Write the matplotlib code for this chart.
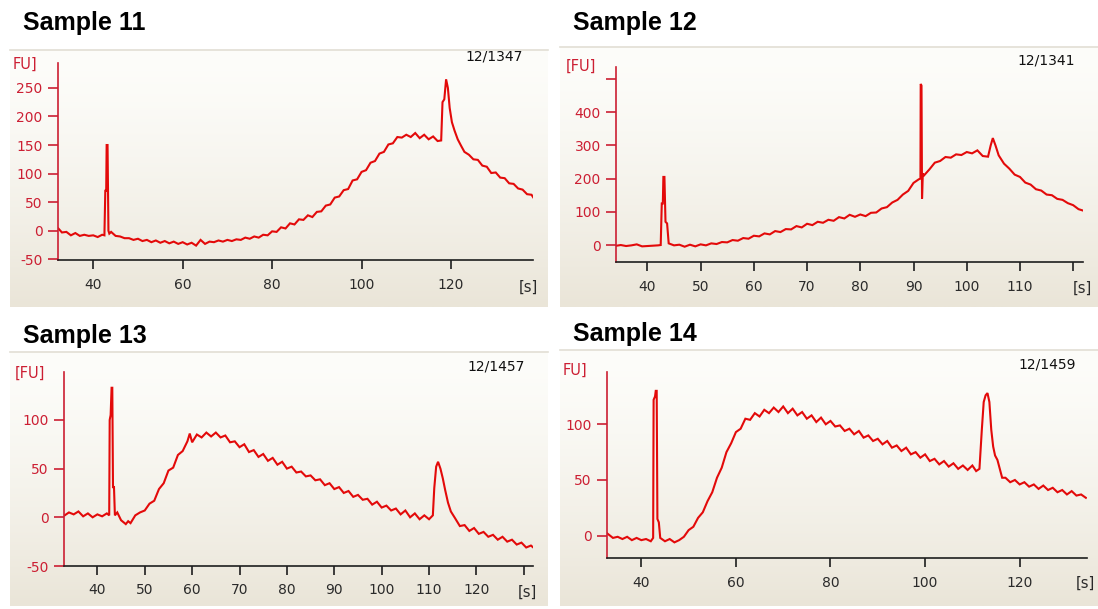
import numpy as np
import matplotlib
matplotlib.use("Agg")
import matplotlib.pyplot as plt

W, H, DPI = 1098, 609, 100

# ---------------- electropherogram traces (time [s], fluorescence [FU]) ----------------
s11_time = [32.2, 33, 34, 35, 36, 37, 38, 39, 40, 41, 42, 42.5, 42.7, 42.9, 43.0, 43.2, 43.4, 43.6,
            44, 45, 46, 47, 48, 49, 50, 51, 52, 53, 54, 55, 56, 57, 58, 59, 60, 61, 62, 63, 64, 65,
            66, 67, 68, 69, 70, 71, 72, 73, 74, 75, 76, 77, 78, 79, 80, 81, 82, 83, 84, 85, 86, 87,
            88, 89, 90, 91, 92, 93, 94, 95, 96, 97, 98, 99, 100, 101, 102, 103, 104, 105, 106, 107,
            108, 109, 110, 111, 112, 113, 114, 115, 116, 117, 117.8, 118.1, 118.5, 118.9, 119.3,
            119.7, 120.2, 120.8, 121.5, 122.3, 123, 124, 125, 126, 127, 128, 129, 130, 131, 132,
            133, 134, 135, 136, 137, 138, 138.5]
s11_fu = [4, -3, -2, -8, -4, -9, -7, -9, -8, -11, -7, -8, 70, 70, 150, 150, 0, -5,
          -2, -9, -10, -13, -13, -16, -14, -18, -16, -20, -17, -21, -18, -22, -19, -23, -20, -24,
          -21, -26, -16, -23, -19, -20, -17, -19, -16, -18, -15, -16, -12, -14, -10, -12, -7, -8,
          -1, -2, 6, 4, 13, 11, 20, 19, 27, 24, 33, 34, 44, 46, 58, 60, 71, 73, 88, 90, 103, 106,
          119, 122, 135, 138, 151, 153, 164, 163, 168, 164, 171, 162, 168, 160, 165, 157, 158,
          225, 230, 265, 250, 215, 190, 175, 160, 148, 138, 133, 125, 124, 114, 112, 101, 102,
          93, 92, 83, 82, 74, 72, 64, 63, 57]

s12_time = [34.2, 35, 36, 37, 38, 39, 40, 41, 42, 42.5, 42.7, 42.9, 43.0, 43.2, 43.4, 43.7, 44.0,
            45, 46, 47, 48, 49, 50, 51, 52, 53, 54, 55, 56, 57, 58, 59, 60, 61, 62, 63, 64, 65, 66,
            67, 68, 69, 70, 71, 72, 73, 74, 75, 76, 77, 78, 79, 80, 81, 82, 83, 84, 85, 86, 87, 88,
            89, 90, 91, 91.3, 91.35, 91.5, 91.6, 91.75, 92, 93, 94, 95, 96, 97, 98, 99, 100, 101,
            102, 103, 104, 104.5, 104.9, 105.4, 106, 107, 108, 109, 110, 111, 112, 113, 114, 115,
            116, 117, 118, 119, 120, 121, 121.8]
s12_fu = [-2, 0, -3, -1, 2, -4, -3, -2, -1, 0, 125, 125, 205, 205, 70, 65, 5,
          -1, 1, -5, 1, -4, 2, -1, 5, 3, 9, 8, 15, 13, 21, 19, 28, 26, 35, 32, 42, 39, 48,
          47, 57, 53, 64, 60, 70, 67, 76, 73, 84, 80, 91, 85, 92, 87, 97, 98, 110, 114, 128, 136,
          152, 163, 187, 198, 200, 485, 480, 140, 215, 210, 228, 248, 253, 265, 263, 273, 271,
          280, 276, 285, 268, 266, 300, 322, 300, 270, 245, 230, 212, 205, 188, 182, 168, 164,
          152, 150, 139, 136, 126, 120, 108, 104]

s13_time = [33.1, 34, 35, 36, 37, 38, 39, 40, 41, 42, 42.5, 42.6, 42.8, 43.0, 43.15, 43.3, 43.5,
            43.7, 44.2, 45, 46, 46.5, 47, 48, 49, 50, 51, 52, 53, 54, 55, 56, 57, 58, 59, 59.5, 60,
            61, 62, 63, 64, 65, 66, 67, 68, 69, 70, 71, 72, 73, 74, 75, 76, 77, 78, 79, 80, 81, 82,
            83, 84, 85, 86, 87, 88, 89, 90, 91, 92, 93, 94, 95, 96, 97, 98, 99, 100, 101, 102, 103,
            104, 105, 106, 107, 108, 109, 110, 110.8, 111.1, 111.5, 111.9, 112.4, 112.9, 113.4, 114,
            114.6, 115.5, 116.5, 117.5, 118.5, 119.5, 120.5, 121.5, 122.5, 123.5, 124.5, 125.5,
            126.5, 127.5, 128.5, 129.5, 130.5, 131.5, 132]
s13_fu = [2, 5, 3, 6, 1, 4, 0, 3, 1, 4, 2, 100, 105, 133, 133, 30, 32,
          2, 5, -3, -7, -4, -6, 2, 5, 7, 14, 17, 29, 35, 48, 51, 64, 68, 78, 86, 77,
          85, 82, 87, 83, 87, 82, 84, 77, 78, 72, 75, 67, 69, 62, 65, 58, 61, 54, 57, 50, 52, 46,
          47, 42, 43, 38, 39, 33, 35, 29, 31, 25, 27, 21, 23, 18, 19, 13, 16, 10, 12, 7, 9,
          3, 7, 0, 4, -2, 2, -2, 2, 30, 52, 57, 50, 40, 28, 15,
          6, -1, -9, -8, -14, -11, -17, -15, -20, -18, -23, -20,
          -25, -23, -28, -26, -31, -29, -31]

s14_time = [32.8, 34, 35, 36, 37, 38, 39, 40, 41, 42, 42.5, 42.6, 42.9, 43.05, 43.25, 43.4, 43.7,
            44, 45, 46, 47, 48, 49, 50, 51, 52, 53, 54, 55, 56, 57, 58, 59, 60, 61, 62, 63, 64, 65,
            66, 67, 68, 69, 70, 71, 72, 73, 74, 75, 76, 77, 78, 79, 80, 81, 82, 83, 84, 85, 86, 87,
            88, 89, 90, 91, 92, 93, 94, 95, 96, 97, 98, 99, 100, 101, 102, 103, 104, 105, 106, 107,
            108, 109, 110, 110.8, 111.5, 112.0, 112.4, 112.8, 113.2, 113.6, 114.0, 114.4, 114.8,
            115.3, 115.8, 116.3, 117, 118, 119, 120, 121, 122, 123, 124, 125, 126, 127, 128, 129,
            130, 131, 132, 133, 134]
s14_fu = [2, -2, -1, -3, -1, -4, -2, -4, -3, -5, -2, 122, 125, 130, 130, 15, 12,
          -2, -5, -3, -6, -4, -1, 5, 8, 16, 21, 31, 39, 52, 61, 75, 83, 93, 96, 105, 104, 110, 107,
          113, 110, 115, 111, 116, 110, 114, 108, 111, 105, 108, 102, 106, 100, 103, 98, 99, 94,
          96, 91, 94, 88, 90, 85, 87, 82, 85, 79, 81, 76, 79, 73, 75, 70, 73, 67, 69, 64, 67, 62,
          65, 60, 63, 59, 63, 58, 60, 95, 120, 126, 128, 120, 95, 80, 72,
          68, 60, 52, 52, 48, 50, 46, 48, 44, 46, 42, 45, 41, 43, 39, 41,
          37, 40, 36, 37, 34]

# ---------------- panel annotations ----------------
titles = ["Sample 11", "Sample 12", "Sample 13", "Sample 14"]
run_ids = ["12/1347", "12/1341", "12/1457", "12/1459"]
fu_labels = ["FU]", "[FU]", "[FU]", "FU]"]

s11_yticks = [-50, 0, 50, 100, 150, 200, 250]
s11_xticks = [40, 60, 80, 100, 120]
s12_yticks = [0, 100, 200, 300, 400, 500]
s12_ylabels = ["0", "100", "200", "300", "400", ""]
s12_xticks = [40, 50, 60, 70, 80, 90, 100, 110, 120]
s12_xlabels = ["40", "50", "60", "70", "80", "90", "100", "110", ""]
s13_yticks = [-50, 0, 50, 100]
s13_xticks = [40, 50, 60, 70, 80, 90, 100, 110, 120, 130]
s13_xlabels = ["40", "50", "60", "70", "80", "90", "100", "110", "120", ""]
s14_yticks = [0, 50, 100]
s14_xticks = [40, 60, 80, 100, 120]

# ---------------- styling ----------------
TRACE = "#e30a0a"
AXRED = "#cc1f33"
DARK = "#1e1e1e"
SMALL_FONT = "DejaVu Sans"

fig = plt.figure(figsize=(W / DPI, H / DPI), dpi=DPI)
fig.patch.set_facecolor("white")


def fx(px):
    return px / W


def fy(py):
    return 1 - py / H


def background(x0, y0, x1, y1):
    """Instrument-window style panel: white fading to beige towards the bottom."""
    ax = fig.add_axes([fx(x0), fy(y1), (x1 - x0) / W, (y1 - y0) / H])
    g = np.linspace(0, 1, 256) ** 1.4
    top = np.array([253, 253, 250]) / 255
    bot = np.array([234, 229, 216]) / 255
    img = top[None, None, :] + (bot - top)[None, None, :] * g[:, None, None]
    ax.imshow(img, aspect="auto", extent=[0, 1, 0, 1], origin="upper", interpolation="bilinear")
    ax.set_xlim(0, 1)
    ax.set_ylim(0, 1)
    ax.plot([0, 1], [1, 1], color="#e2ded4", lw=1.2, clip_on=False)
    ax.set_axis_off()
    return ax


def panel(box, rect, xlim, ylim, t, v, xt, xl, yt, yl):
    background(*box)
    l, t_, r, b = rect
    ax = fig.add_axes([fx(l), fy(b), (r - l) / W, (b - t_) / H])
    ax.set_facecolor("none")
    ax.plot(t, v, color=TRACE, lw=1.5, solid_joinstyle="miter")
    ax.set_xlim(*xlim)
    ax.set_ylim(*ylim)
    for side in ("top", "right"):
        ax.spines[side].set_visible(False)
    ax.spines["left"].set_color(AXRED)
    ax.spines["left"].set_linewidth(1.2)
    ax.spines["bottom"].set_color(DARK)
    ax.spines["bottom"].set_linewidth(1.2)
    ax.set_xticks(xt)
    ax.set_xticklabels(xl if xl is not None else [str(x) for x in xt])
    ax.set_yticks(yt)
    ax.set_yticklabels(yl if yl is not None else [str(y) for y in yt])
    ax.tick_params(axis="y", colors=AXRED, length=7, width=1.2, pad=4,
                   labelsize=10)
    ax.tick_params(axis="x", colors=DARK, length=6.5, width=1.2, pad=6,
                   labelsize=10)
    for lab in ax.get_xticklabels() + ax.get_yticklabels():
        lab.set_fontfamily(SMALL_FONT)
    ax.tick_params(axis="x", labelcolor="#2a2a2a")
    ax.tick_params(axis="y", labelcolor=AXRED)
    return ax


# Sample 11
panel((10, 50, 548, 307), (57.9, 63.3, 533.3, 260.3), (32.1, 138.4), (-51.7, 293),
      s11_time, s11_fu, s11_xticks, None, s11_yticks, None)
# Sample 12
panel((560, 47, 1098, 307), (616, 67, 1083.3, 262.3), (34.1, 121.9), (-52, 536),
      s12_time, s12_fu, s12_xticks, s12_xlabels, s12_yticks, s12_ylabels)
# Sample 13
panel((10, 352, 548, 606), (64.2, 371.7, 533.3, 566), (33, 132), (-50, 149.5),
      s13_time, s13_fu, s13_xticks, s13_xlabels, s13_yticks, None)
# Sample 14
panel((560, 350, 1098, 606), (606.8, 371.7, 1086.8, 558.3), (32.7, 134.2), (-20.3, 147.2),
      s14_time, s14_fu, s14_xticks, None, s14_yticks, None)

# titles
title_pos = [(23, 30), (573, 30), (23, 343), (573, 341)]
for s, (x, y) in zip(titles, title_pos):
    fig.text(fx(x), fy(y), s, ha="left", va="baseline", fontsize=18, fontweight="bold",
             family="Liberation Sans", color="black")

# run identifiers
id_pos = [(494, 57), (1046, 60), (496, 366), (1047, 364)]
for s, (x, y) in zip(run_ids, id_pos):
    fig.text(fx(x), fy(y), s, ha="center", va="center", fontsize=10, family=SMALL_FONT,
             color="#111111")

# unit labels
fu_pos = [(25, 64), (581, 66), (30, 373), (575, 370)]
for s, (x, y) in zip(fu_labels, fu_pos):
    fig.text(fx(x), fy(y), s, ha="center", va="center", fontsize=10.5, family=SMALL_FONT,
             color=AXRED)

s_pos = [(528, 287), (1082, 288), (527, 592), (1085, 583)]
for x, y in s_pos:
    fig.text(fx(x), fy(y), "[s]", ha="center", va="center", fontsize=10.5, family=SMALL_FONT,
             color="#2a2a2a")

fig.savefig("out.png", dpi=DPI, facecolor="white")
